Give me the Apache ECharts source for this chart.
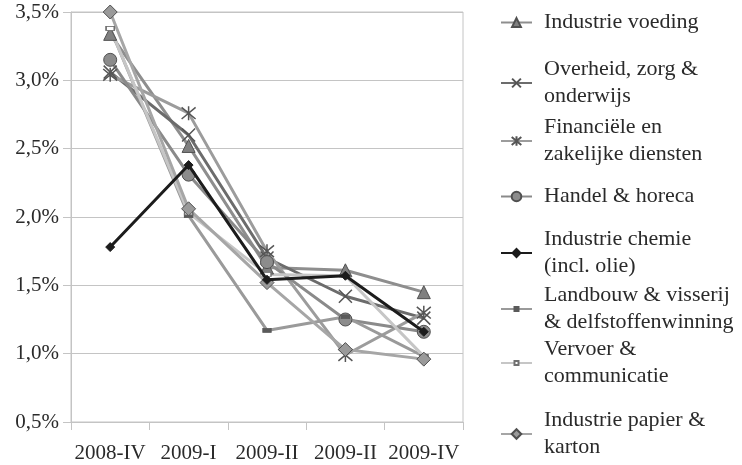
<!DOCTYPE html>
<html>
<head>
<meta charset="utf-8">
<style>
  html, body { margin: 0; padding: 0; background: #fff; }
  #chart { width: 742px; height: 465px; }
</style>
<script src="https://cdn.jsdelivr.net/npm/echarts@6/dist/echarts.min.js"></script>
</head>
<body>
<div id="chart"></div>
<script>
// ---- data ----
const categories = ['2008-IV', '2009-I', '2009-II', '2009-II', '2009-IV'];
const seriesNames = [
  'Industrie voeding',
  'Overheid, zorg & onderwijs',
  'Financiële en zakelijke diensten',
  'Handel & horeca',
  'Industrie chemie (incl. olie)',
  'Landbouw & visserij & delfstoffenwinning',
  'Vervoer & communicatie',
  'Industrie papier & karton'
];
const legendLabels = [
  'Industrie voeding',
  'Overheid, zorg &\nonderwijs',
  'Financiële en\nzakelijke diensten',
  'Handel & horeca',
  'Industrie chemie\n(incl. olie)',
  'Landbouw & visserij\n& delfstoffenwinning',
  'Vervoer &\ncommunicatie',
  'Industrie papier &\nkarton'
];
const voeding    = [3.34, 2.52, 1.63, 1.61, 1.45];
const overheid   = [3.06, 2.60, 1.70, 1.42, 1.26];
const financieel = [3.04, 2.76, 1.75, 0.99, 1.30];
const handel     = [3.15, 2.31, 1.67, 1.25, 1.16];
const chemie     = [1.78, 2.38, 1.54, 1.57, 1.16];
const landbouw   = [3.38, 2.01, 1.17, 1.27, 0.98];
const vervoer    = [3.38, 2.03, 1.58, 1.57, 0.98];
const papier     = [3.50, 2.06, 1.52, 1.03, 0.96];
const yTicks = ['0,5%', '1,0%', '1,5%', '2,0%', '2,5%', '3,0%', '3,5%'];

// ---- styles ----
const FONT = '"Liberation Serif", "DejaVu Serif", serif';
const TXT = '#2a2a2a';
const seriesData = [voeding, overheid, financieel, handel, chemie, landbouw, vervoer, papier];
const styles = [
  { line: '#8e8e8e', symbol: 'triangle', size: 13, fill: '#808080', border: '#505050', bw: 1, lh: 11 },
  { line: '#6c6c6c', symbol: 'path://M0,0L10,10M10,0L0,10', size: 13, fill: '#555', border: '#555', bw: 1.5, lh: 11 },
  { line: '#9c9c9c', symbol: 'path://M0,0L10,10M10,0L0,10M5,-1L5,11', size: 14, fill: '#555', border: '#555', bw: 1.5, lh: 12 },
  { line: '#8a8a8a', symbol: 'circle', size: 13, fill: '#8c8c8c', border: '#505050', bw: 1, lh: 12 },
  { line: '#1c1c1c', symbol: 'diamond', size: 9, fill: '#1c1c1c', border: '#1c1c1c', bw: 1, lh: 10 },
  { line: '#9a9a9a', symbol: 'rect', size: [8, 4], fill: '#5a5a5a', border: '#5a5a5a', bw: 1, lh: 5 },
  { line: '#c6c6c6', symbol: 'rect', size: [8, 4], fill: '#ffffff', border: '#707070', bw: 1, lh: 5 },
  { line: '#a6a6a6', symbol: 'diamond', size: 14, fill: '#9a9a9a', border: '#505050', bw: 1, lh: 12 }
];
const legendTops = [9, 56, 114, 183, 226, 282, 336, 407];

const series = seriesNames.map((name, i) => ({
  name: name,
  type: 'line',
  data: seriesData[i],
  symbol: styles[i].symbol,
  symbolSize: styles[i].size,
  showAllSymbol: true,
  lineStyle: { color: styles[i].line, width: 3 },
  itemStyle: { color: styles[i].fill, borderColor: styles[i].border, borderWidth: styles[i].bw },
  z: i === 4 ? 5 : 2,
  animation: false
}));

const legends = seriesNames.map((name, i) => ({
  data: [name],
  orient: 'vertical',
  left: 500,
  top: legendTops[i],
  padding: 0,
  itemWidth: 31,
  itemHeight: styles[i].lh,
  selectedMode: false,
  formatter: () => legendLabels[i],
  textStyle: { fontFamily: FONT, fontSize: 22, lineHeight: 27, color: TXT, padding: [0, 0, 0, 7] }
}));

const chart = echarts.init(document.getElementById('chart'), null, { renderer: 'canvas' });
chart.setOption({
  animation: false,
  backgroundColor: '#ffffff',
  grid: { left: 71, right: 279, top: 12, bottom: 43, show: true, borderColor: '#c4c4c4', borderWidth: 1 },
  legend: legends,
  xAxis: {
    type: 'category',
    data: categories,
    boundaryGap: true,
    axisLine: { lineStyle: { color: '#c4c4c4', width: 1 } },
    axisTick: { show: true, length: 8, lineStyle: { color: '#c4c4c4' } },
    axisLabel: { fontFamily: FONT, fontSize: 21, color: TXT, margin: 21, interval: 0 }
  },
  yAxis: {
    type: 'value',
    min: 0.5,
    max: 3.5,
    interval: 0.5,
    axisLine: { show: true, lineStyle: { color: '#c4c4c4', width: 1 } },
    axisTick: { show: true, length: 8, lineStyle: { color: '#c4c4c4' } },
    splitLine: { lineStyle: { color: '#c4c4c4', width: 1 } },
    axisLabel: {
      fontFamily: FONT, fontSize: 21, color: TXT, margin: 12,
      formatter: (v) => yTicks[Math.round((v - 0.5) / 0.5)]
    }
  },
  series: series
});
</script>
</body>
</html>
